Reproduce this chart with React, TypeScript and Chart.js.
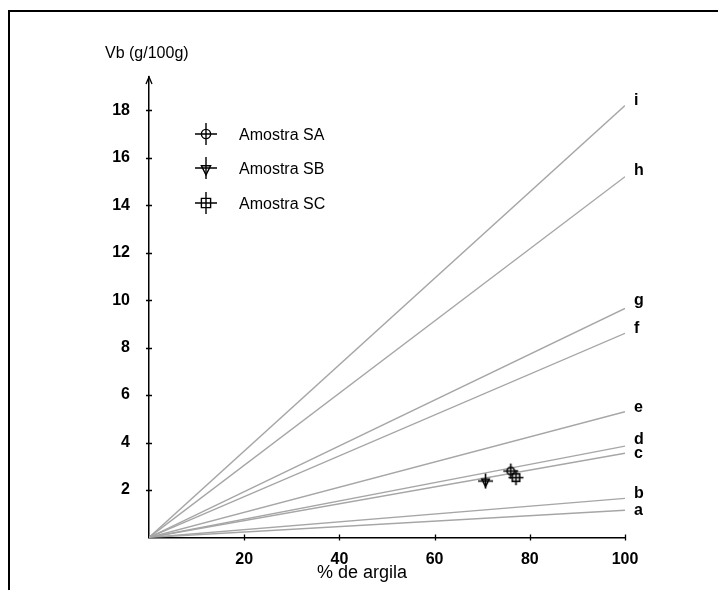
import React, { useEffect, useRef } from 'react';
import { Chart, registerables } from 'chart.js';

Chart.register(...registerables);

// ---- data ----
const lineNames = ['a', 'b', 'c', 'd', 'e', 'f', 'g', 'h', 'i'];
const lineStartX = 0;
const lineEndX = 100;
const lineEndVb = [1.15, 1.65, 3.55, 3.85, 5.3, 8.6, 9.65, 15.2, 18.2];

const sampleNames = ['Amostra SA', 'Amostra SB', 'Amostra SC'];
const sampleKinds = ['circle', 'tri', 'square'];
const sampleX = [76.0, 70.7, 77.1];
const sampleY = [2.8, 2.38, 2.52];

const xTicks = [20, 40, 60, 80, 100];
const yTicks = [2, 4, 6, 8, 10, 12, 14, 16, 18];
const xTitle = '% de argila';
const yTitle = 'Vb (g/100g)';

// ---- style ----
const FONT = "'Liberation Sans', Arial, sans-serif";
const labelDy = [5, 0, 5, -2, 0, 0, -3, -2, 0];

function makeMarker(kind: string, arm: number, r: number, lw: number): HTMLCanvasElement {
  const size = arm * 2 + 2;
  const c = document.createElement('canvas');
  c.width = size;
  c.height = size;
  const g = c.getContext('2d')!;
  const m = size / 2;
  g.strokeStyle = '#000';
  g.lineWidth = lw;
  g.beginPath();
  g.moveTo(m - arm, m);
  g.lineTo(m + arm, m);
  g.moveTo(m, m - arm);
  g.lineTo(m, m + arm);
  g.stroke();
  g.beginPath();
  if (kind === 'circle') {
    g.arc(m, m, r, 0, Math.PI * 2);
  } else if (kind === 'tri') {
    g.moveTo(m - r, m - 0.5 * r);
    g.lineTo(m + r, m - 0.5 * r);
    g.lineTo(m, m + 1.5 * r);
    g.closePath();
  } else {
    g.rect(m - r, m - r, 2 * r, 2 * r);
  }
  g.stroke();
  return c;
}

export default function App() {
  const ref = useRef<HTMLCanvasElement>(null);

  useEffect(() => {
    if (!ref.current) return;
    const chartMarkers = sampleKinds.map((k) => makeMarker(k, 7.5, 3.7, 1.6));
    const legendMarkers = sampleKinds.map((k) => makeMarker(k, 11, 4.6, 1.4));

    const lineSets = lineNames.map((n, i) => ({
      type: 'scatter' as const,
      label: n,
      data: [
        { x: lineStartX, y: 0 },
        { x: lineEndX, y: lineEndVb[i] },
      ],
      showLine: true,
      borderColor: '#a6a6a6',
      borderWidth: 1.4,
      pointRadius: 0,
      order: 1,
    }));
    const pointSets = sampleNames.map((n, i) => ({
      type: 'scatter' as const,
      label: n,
      data: [{ x: sampleX[i], y: sampleY[i] }],
      showLine: false,
      pointStyle: chartMarkers[i],
      pointRadius: 8,
      order: 0,
    }));

    const overlay = {
      id: 'overlay',
      afterDraw(chart: any) {
        const ctx = chart.ctx as CanvasRenderingContext2D;
        const xs = chart.scales.x;
        const ys = chart.scales.y;
        const ca = chart.chartArea;
        ctx.save();
        ctx.strokeStyle = '#000';
        ctx.lineWidth = 1.3;
        ctx.beginPath();
        xTicks.forEach((v) => {
          const px = Math.round(xs.getPixelForValue(v)) + 0.5;
          ctx.moveTo(px, ca.bottom - 3);
          ctx.lineTo(px, ca.bottom + 3);
        });
        yTicks.forEach((v) => {
          const py = Math.round(ys.getPixelForValue(v)) + 0.5;
          ctx.moveTo(ca.left - 3, py);
          ctx.lineTo(ca.left + 3, py);
        });
        ctx.stroke();
        // arrow head on y axis
        ctx.beginPath();
        ctx.moveTo(ca.left - 3, ca.top + 7);
        ctx.lineTo(ca.left, ca.top);
        ctx.lineTo(ca.left + 3, ca.top + 7);
        ctx.stroke();

        ctx.fillStyle = '#000';
        // axis titles
        ctx.font = `16px ${FONT}`;
        ctx.textAlign = 'left';
        ctx.textBaseline = 'alphabetic';
        ctx.fillText(yTitle, 95, 45.5);
        ctx.font = `18px ${FONT}`;
        ctx.fillText(xTitle, 307, 566);

        // line labels
        ctx.font = `bold 16px ${FONT}`;
        lineNames.forEach((n, i) => {
          const px = xs.getPixelForValue(lineEndX) + 9;
          const py = ys.getPixelForValue(lineEndVb[i]) + labelDy[i];
          ctx.fillText(n, px, py);
        });

        // legend
        ctx.font = `16px ${FONT}`;
        const legendY = [122, 156, 191];
        sampleNames.forEach((n, i) => {
          const img = legendMarkers[i];
          ctx.drawImage(img, 196 - img.width / 2, legendY[i] - img.height / 2);
          ctx.fillText(n, 229, legendY[i] + 6);
        });
        ctx.restore();
      },
    };

    const chart = new Chart(ref.current, {
      type: 'scatter',
      data: { datasets: [...lineSets, ...pointSets] as any },
      options: {
        responsive: false,
        animation: false,
        events: [],
        layout: { padding: { left: 99, right: 93, top: 65, bottom: 24.5 } },
        plugins: { legend: { display: false }, tooltip: { enabled: false } },
        scales: {
          x: {
            type: 'linear',
            min: 0,
            max: 100,
            afterBuildTicks: (s: any) => {
              s.ticks = xTicks.map((v) => ({ value: v }));
            },
            afterFit: (s: any) => {
              s.height = 30;
            },
            grid: { display: false },
            border: { display: true, color: '#000', width: 1.5 },
            ticks: {
              color: '#000',
              font: { family: FONT, size: 16, weight: 'bold' },
              padding: 4,
              maxRotation: 0,
              autoSkip: false,
            },
          },
          y: {
            type: 'linear',
            min: 0,
            max: 19.4,
            afterBuildTicks: (s: any) => {
              s.ticks = yTicks.map((v) => ({ value: v }));
            },
            afterFit: (s: any) => {
              s.width = 40;
            },
            grid: { display: false },
            border: { display: true, color: '#000', width: 1.5 },
            ticks: {
              color: '#000',
              font: { family: FONT, size: 16, weight: 'bold' },
              padding: 11,
              autoSkip: false,
            },
          },
        },
      },
      plugins: [overlay],
    });
    return () => chart.destroy();
  }, []);

  return (
    <div
      style={{
        position: 'relative',
        top: 2,
        borderTop: '2px solid #000',
        borderLeft: '2px solid #000',
        width: 716,
        height: 580,
      }}
    >
      <canvas ref={ref} width={708} height={580} style={{ display: 'block', width: 708, height: 580 }} />
    </div>
  );
}
